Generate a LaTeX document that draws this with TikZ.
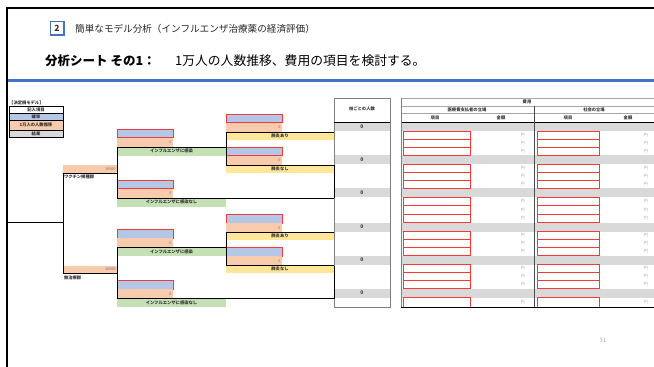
\documentclass[tikz,border=0pt]{standalone}
\usepackage{fontspec}
\setmainfont{Noto Sans CJK JP}
\definecolor{pblue}{HTML}{B4C7E7}
\definecolor{ppeach}{HTML}{F8CBAD}
\definecolor{pgreen}{HTML}{C5E0B4}
\definecolor{pyellow}{HTML}{FFE699}
\definecolor{pgray}{HTML}{D9D9D9}
\definecolor{hblue}{HTML}{4472C4}
\definecolor{pred}{HTML}{F23A3A}
\definecolor{bordgray}{HTML}{808080}
\newcommand\tinyfont{\fontsize{4.3}{4.5}\selectfont\bfseries}
\newcommand\pbranch[4]{%
  \node[probbar, minimum width=#4] (#1-p) at (#2,#3-18) {};
  \node[cntbar, minimum width=#4] (#1-c) at (#2,#3-9.5) {};
  \node[valtxt] (#1-v) at (#1-c.east) {0};
}
\begin{document}
\begin{tikzpicture}[x=1pt,y=-1pt,
  cell/.style={rectangle, inner sep=0pt, outer sep=0pt, anchor=north west, font=\tinyfont, text=black!80},
  probbar/.style={cell, fill=pblue, draw=pred, line width=0.7pt, minimum height=8.5pt},
  cntbar/.style={cell, fill=ppeach, minimum height=9.5pt},
  infbar/.style={cell, fill=pgreen, minimum height=8.5pt, minimum width=109pt},
  pnbar/.style={cell, fill=pyellow, minimum height=7.5pt, minimum width=108pt},
  legbox/.style={cell, draw=black, line width=0.6pt, minimum width=54pt, minimum height=7pt},
  valtxt/.style={anchor=east, inner sep=1.2pt, font=\fontsize{3.8}{4}\selectfont, text=black!55},
  branch/.style={line width=1pt, black},
  hdr/.style={inner sep=0pt, font=\tinyfont, text=black!80},
  yen/.style={anchor=east, inner sep=0pt, font=\fontsize{4}{4}\selectfont, text=black!35},
  itembox/.style={draw=pred, line width=0.7pt}]
\useasboundingbox (0,0) rectangle (654,367);
% frame and header
\draw[line width=2pt] (7,367) -- (7,8) -- (654,8);
\draw[hblue, line width=3pt] (8,80.5) -- (654,80.5);
\node[draw=hblue, line width=1.5pt, fill=white, minimum size=13.5pt, inner sep=0pt,
      font=\fontsize{8.5}{8.5}\selectfont\bfseries, text=black!80] (num) at (57,28) {2};
\node[anchor=west, inner sep=0pt, font=\fontsize{9.6}{10}\selectfont, text=black!85] (subtitle) at (75,28.5)
  {簡単なモデル分析（インフルエンザ治療薬の経済評価）};
\node[anchor=west, inner sep=0pt, font=\fontsize{12.5}{13}\selectfont\bfseries] (title) at (45,61) {分析シート その1：};
\node[anchor=west, inner sep=0pt, font=\fontsize{12.8}{13}\selectfont] (titletext) at (175,61)
  {1万人の人数推移、費用の項目を検討する。};
% legend
\node[anchor=west, hdr] (lgtitle) at (9,103) {【決定樹モデル】};
\node[legbox, fill=white] (lg1) at (9,106) {記入項目};
\node[legbox, fill=pblue] (lg2) at (9,113) {確率};
\node[legbox, fill=ppeach, minimum height=10pt] (lg3) at (9,120) {1万人の人数推移};
\node[legbox, fill=pgray] (lg4) at (9,130) {結果};
% column of branch counts
\foreach \n/\y in {1/132,2/165,3/198,4/232.5,5/265.5,6/298.5}{
  \node[cell, fill=pgray, minimum width=55pt, minimum height=9pt] (g\n) at (334.5,\y-10) {};
  \node[inner sep=0pt, font=\fontsize{5}{5}\selectfont\bfseries, text=black!80] (g\n v) at (g\n.center) {0};
}
\node[cell, draw=bordgray, line width=1pt, minimum width=56pt, minimum height=209pt] (col) at (334,98) {};
\node[hdr] (colhdr) at (362,108.5) {枝ごとの人数};
\draw[line width=1pt] (334,122) -- (390,122);
% level 1
\node[cntbar, minimum width=54pt, minimum height=8pt] (grpv) at (63,165) {};
\node[valtxt] (grpvv) at (grpv.east) {10000};
\node[cell, inner sep=0.5pt] (grpvl) at (63.5,174.5) {ワクチン接種群};
\node[cntbar, minimum width=54pt, minimum height=8pt] (grpn) at (63,265.5) {};
\node[valtxt] (grpnv) at (grpn.east) {10000};
\node[cell, inner sep=0.5pt] (grpnl) at (63.5,275) {無治療群};
\coordinate (root) at (8,222.5);
% level 2, vaccine
\pbranch{vi}{117}{147}{56pt}
\node[infbar] (vil) at (117,147) {インフルエンザに感染};
\pbranch{vn}{117}{198}{56pt}
\node[infbar] (vnl) at (117,198) {インフルエンザに感染なし};
% level 3, vaccine
\pbranch{va}{226}{132}{56pt}
\node[pnbar] (val) at (226,132) {肺炎あり};
\pbranch{vb}{226}{165}{56pt}
\node[pnbar] (vbl) at (226,165) {肺炎なし};
% level 2, no treatment
\pbranch{ni}{117}{247.5}{56pt}
\node[infbar] (nil) at (117,247.5) {インフルエンザに感染};
\pbranch{nn}{117}{298.5}{56pt}
\node[infbar] (nnl) at (117,298.5) {インフルエンザに感染なし};
% level 3, no treatment
\pbranch{na}{226}{232.5}{56pt}
\node[pnbar] (nal) at (226,232.5) {肺炎あり};
\pbranch{nb}{226}{265.5}{56pt}
\node[pnbar] (nbl) at (226,265.5) {肺炎なし};
% tree lines
\draw[branch] (root) -- (root -| grpv.south west);
\draw[branch] (grpv.south west) -- (grpn.south west);
\draw[branch] (grpv.south west) -- (grpv.south east);
\draw[branch] (grpn.south west) -- (grpn.south east);
\draw[branch] (vil.north west) -- (vnl.north west);
\draw[branch] (vil.north west) -- (vil.north east);
\draw[branch] (vnl.north west) -- (vnl.north west -| col.west);
\draw[branch] (val.north west) -- (vbl.north west);
\draw[branch] (val.north west) -- (val.north east);
\draw[branch] (vbl.north west) -- (vbl.north east);
\draw[branch] (vbl.north east) -- (vnl.north west -| col.west);
\draw[branch] (nil.north west) -- (nnl.north west);
\draw[branch] (nil.north west) -- (nil.north east);
\draw[branch] (nnl.north west) -- (nnl.north west -| col.west);
\draw[branch] (nal.north west) -- (nbl.north west);
\draw[branch] (nal.north west) -- (nal.north east);
\draw[branch] (nbl.north west) -- (nbl.north east);
\draw[branch] (nbl.north east) -- (nnl.north west -| col.west);
% cost table
\foreach \y in {132,165,198,232.5,265.5,298.5}{
  \fill[pgray] (401,\y-10) rectangle (654,\y-1);
}
\foreach \y/\h in {131/8,139/8,147/8,164/8,172/8,180/8,197/8.5,205.5/8.5,214/8.5,
                   231.5/8,239.5/8,247.5/8,264.5/8,272.5/8,280.5/8,297.5/9.5}{
  \draw[itembox] (403.5,\y) rectangle (470.5,\y+\h);
  \draw[itembox] (537,\y) rectangle (599,\y+\h);
  \node[yen] at (525,\y+\h/2) {円};
  \node[yen] at (648,\y+\h/2) {円};
}
\draw[bordgray!70, line width=0.6pt] (401,98) -- (654,98);
\draw[bordgray!70, line width=0.6pt] (401,106) -- (654,106);
\draw[bordgray!70, line width=0.6pt] (401,113) -- (654,113);
\draw[line width=1pt] (401,122) -- (654,122);
\draw[line width=1pt] (401,307) -- (654,307);
\draw[bordgray, line width=0.8pt] (401,98) -- (401,307);
\draw[black!70, line width=0.8pt] (534,106) -- (534,307);
\node[hdr] (th1) at (527,102) {費用};
\node[hdr] (th2) at (467,109.5) {医療費支払者の立場};
\node[hdr] (th3) at (594,109.5) {社会の立場};
\node[hdr] (th4) at (435,117.5) {項目};
\node[hdr] (th5) at (501,117.5) {金額};
\node[hdr] (th6) at (568,117.5) {項目};
\node[hdr] (th7) at (628,117.5) {金額};
% page number
\node[inner sep=0pt, font=\fontsize{6}{6}\selectfont, text=black!35] (pg) at (603,340) {31};
\end{tikzpicture}
\end{document}
